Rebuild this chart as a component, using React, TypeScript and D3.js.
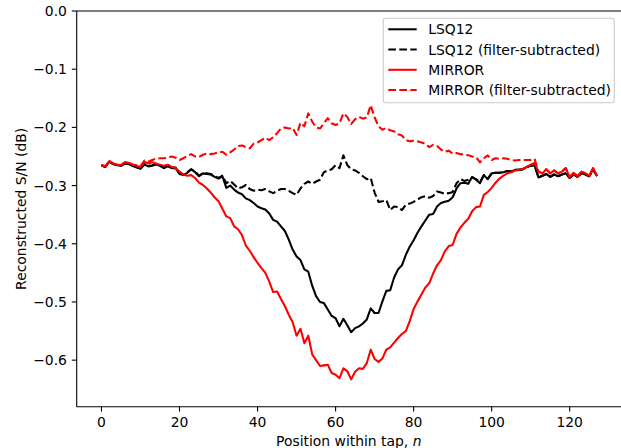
import React from "react";
import * as d3 from "d3";

const positions: number[] = Array.from({ length: 128 }, (_, i) => i);

const lsq12: number[] = [
  -0.265, -0.268, -0.259, -0.263, -0.265, -0.266, -0.262, -0.263, -0.266, -0.269,
  -0.271, -0.264, -0.267, -0.266, -0.264, -0.266, -0.270, -0.267, -0.270, -0.270,
  -0.280, -0.282, -0.278, -0.272, -0.277, -0.284, -0.279, -0.280, -0.281, -0.285,
  -0.288, -0.284, -0.304, -0.300, -0.307, -0.312, -0.315, -0.322, -0.325, -0.330,
  -0.336, -0.339, -0.341, -0.348, -0.359, -0.362, -0.370, -0.378, -0.393, -0.410,
  -0.422, -0.428, -0.444, -0.448, -0.472, -0.490, -0.500, -0.502, -0.513, -0.524,
  -0.528, -0.542, -0.529, -0.540, -0.552, -0.545, -0.542, -0.537, -0.530, -0.511,
  -0.519, -0.519, -0.499, -0.481, -0.480, -0.458, -0.444, -0.437, -0.419, -0.405,
  -0.394, -0.381, -0.370, -0.360, -0.350, -0.349, -0.336, -0.330, -0.328, -0.326,
  -0.320, -0.305, -0.296, -0.295, -0.297, -0.285, -0.290, -0.296, -0.282, -0.289,
  -0.279, -0.278, -0.278, -0.277, -0.275, -0.276, -0.273, -0.273, -0.272, -0.268,
  -0.266, -0.265, -0.286, -0.283, -0.280, -0.285, -0.281, -0.284, -0.281, -0.279,
  -0.287, -0.281, -0.285, -0.279, -0.281, -0.284, -0.272, -0.284,
];

const lsq12Sub: number[] = [
  -0.265, -0.268, -0.259, -0.263, -0.265, -0.266, -0.262, -0.263, -0.266, -0.268,
  -0.270, -0.263, -0.266, -0.265, -0.263, -0.265, -0.269, -0.266, -0.269, -0.269,
  -0.279, -0.281, -0.277, -0.272, -0.276, -0.283, -0.279, -0.279, -0.280, -0.284,
  -0.287, -0.283, -0.296, -0.292, -0.298, -0.305, -0.303, -0.299, -0.306, -0.309,
  -0.307, -0.308, -0.306, -0.310, -0.313, -0.309, -0.306, -0.306, -0.309, -0.313,
  -0.316, -0.305, -0.297, -0.293, -0.297, -0.293, -0.290, -0.277, -0.274, -0.272,
  -0.265, -0.270, -0.248, -0.265, -0.272, -0.274, -0.278, -0.284, -0.289, -0.287,
  -0.312, -0.328, -0.327, -0.325, -0.342, -0.336, -0.337, -0.342, -0.333, -0.331,
  -0.328, -0.324, -0.320, -0.318, -0.321, -0.318, -0.310, -0.312, -0.314, -0.313,
  -0.311, -0.296, -0.289, -0.292, -0.290, -0.286, -0.289, -0.294, -0.282, -0.288,
  -0.279, -0.278, -0.278, -0.277, -0.275, -0.276, -0.273, -0.273, -0.272, -0.268,
  -0.266, -0.265, -0.286, -0.283, -0.280, -0.285, -0.281, -0.284, -0.281, -0.279,
  -0.287, -0.281, -0.285, -0.279, -0.281, -0.284, -0.272, -0.284,
];

const mirror: number[] = [
  -0.265, -0.267, -0.258, -0.262, -0.264, -0.265, -0.260, -0.261, -0.264, -0.266,
  -0.268, -0.259, -0.262, -0.260, -0.262, -0.264, -0.266, -0.264, -0.268, -0.270,
  -0.276, -0.281, -0.283, -0.282, -0.287, -0.295, -0.299, -0.305, -0.312, -0.320,
  -0.327, -0.340, -0.353, -0.356, -0.370, -0.375, -0.385, -0.403, -0.412, -0.423,
  -0.433, -0.442, -0.450, -0.465, -0.483, -0.482, -0.495, -0.507, -0.522, -0.535,
  -0.558, -0.546, -0.571, -0.558, -0.590, -0.600, -0.610, -0.609, -0.608, -0.622,
  -0.625, -0.631, -0.614, -0.619, -0.633, -0.620, -0.614, -0.615, -0.605, -0.582,
  -0.598, -0.603, -0.597, -0.582, -0.578, -0.570, -0.562, -0.555, -0.550, -0.533,
  -0.512, -0.499, -0.487, -0.475, -0.468, -0.451, -0.437, -0.428, -0.413, -0.404,
  -0.402, -0.383, -0.372, -0.364, -0.357, -0.344, -0.337, -0.336, -0.316, -0.311,
  -0.304, -0.295, -0.288, -0.283, -0.279, -0.277, -0.274, -0.273, -0.271, -0.268,
  -0.264, -0.261, -0.276, -0.279, -0.272, -0.279, -0.274, -0.279, -0.276, -0.270,
  -0.286, -0.278, -0.284, -0.276, -0.279, -0.283, -0.270, -0.283,
];

const mirrorSub: number[] = [
  -0.265, -0.267, -0.258, -0.262, -0.264, -0.265, -0.260, -0.261, -0.264, -0.265,
  -0.267, -0.257, -0.259, -0.256, -0.254, -0.253, -0.253, -0.252, -0.250, -0.252,
  -0.256, -0.253, -0.249, -0.246, -0.250, -0.251, -0.247, -0.245, -0.246, -0.245,
  -0.243, -0.242, -0.247, -0.243, -0.238, -0.232, -0.231, -0.234, -0.236, -0.228,
  -0.226, -0.222, -0.218, -0.222, -0.217, -0.210, -0.202, -0.200, -0.202, -0.201,
  -0.213, -0.192, -0.198, -0.176, -0.190, -0.200, -0.202, -0.193, -0.184, -0.193,
  -0.196, -0.193, -0.176, -0.182, -0.194, -0.186, -0.182, -0.185, -0.183, -0.162,
  -0.183, -0.198, -0.204, -0.201, -0.205, -0.207, -0.212, -0.214, -0.222, -0.224,
  -0.223, -0.224, -0.226, -0.228, -0.234, -0.230, -0.232, -0.238, -0.242, -0.240,
  -0.245, -0.244, -0.246, -0.247, -0.248, -0.250, -0.251, -0.260, -0.253, -0.248,
  -0.256, -0.253, -0.254, -0.253, -0.254, -0.256, -0.257, -0.256, -0.256, -0.256,
  -0.256, -0.254, -0.276, -0.279, -0.272, -0.279, -0.274, -0.279, -0.276, -0.270,
  -0.286, -0.278, -0.284, -0.276, -0.279, -0.283, -0.270, -0.283,
];

const seriesNames: string[] = [
  "LSQ12",
  "LSQ12 (filter-subtracted)",
  "MIRROR",
  "MIRROR (filter-subtracted)",
];
const seriesColors: string[] = ["#000000", "#000000", "#ff0000", "#ff0000"];
const seriesDashed: boolean[] = [false, true, false, true];

const xTicks: number[] = [0, 20, 40, 60, 80, 100, 120];
const yTicks: number[] = [0, -0.1, -0.2, -0.3, -0.4, -0.5, -0.6];

const W = 621;
const H = 448;
const FONT = "'DejaVu Sans', sans-serif";
const FS = 13.9;
const LW = 2.08;
const DASH = "7.7,3.3";

export default function App() {
  const left = 76.7;
  const right = 621.8;
  const top = 11;
  const bottom = 406.7;
  const x = d3.scaleLinear().domain([-6.35, 133.35]).range([left, right]);
  const y = d3.scaleLinear().domain([-0.68, 0]).range([bottom, top]);

  const allSeries = [lsq12, lsq12Sub, mirror, mirrorSub];
  const line = d3
    .line<number>()
    .x((_, i) => x(positions[i]))
    .y((d) => y(d));

  const fmt = (v: number) => {
    const s = Math.abs(v).toFixed(1);
    return v < -1e-9 ? "\u2212" + s : s;
  };

  const legX = 383.3;
  const legY = 18.3;
  const legW = 231;
  const legH = 84.4;
  const rowY = [29.3, 49.5, 69.8, 90];

  return (
    <svg
      width={W}
      height={H}
      style={{ position: "absolute", left: 0, top: 0, background: "#fff" }}
      fontFamily={FONT}
    >
      <rect x={0} y={0} width={W} height={H} fill="#fff" />
      <defs>
        <clipPath id="plotclip">
          <rect x={left} y={top} width={right - left} height={bottom - top} />
        </clipPath>
      </defs>
      <g clipPath="url(#plotclip)">
        {allSeries.map((s, k) => (
          <path
            key={k}
            d={line(s) || ""}
            fill="none"
            stroke={seriesColors[k]}
            strokeWidth={LW}
            strokeDasharray={seriesDashed[k] ? DASH : undefined}
            strokeLinejoin="round"
          />
        ))}
      </g>
      {/* spines */}
      <line x1={left} x2={left} y1={top} y2={bottom} stroke="#000" strokeWidth={1.1} />
      <line x1={left} x2={right} y1={bottom} y2={bottom} stroke="#000" strokeWidth={1.1} />
      <line x1={left} x2={right} y1={top} y2={top} stroke="#000" strokeWidth={1.1} />
      {/* x ticks */}
      {xTicks.map((t) => (
        <g key={"x" + t}>
          <line x1={x(t)} x2={x(t)} y1={bottom} y2={bottom + 4.9} stroke="#000" strokeWidth={1.1} />
          <text x={x(t)} y={bottom + 20} textAnchor="middle" fontSize={FS} fill="#000">
            {t}
          </text>
        </g>
      ))}
      {/* y ticks */}
      {yTicks.map((t) => (
        <g key={"y" + t}>
          <line x1={left - 4.9} x2={left} y1={y(t)} y2={y(t)} stroke="#000" strokeWidth={1.1} />
          <text
            x={left - 9.8}
            y={y(t)}
            dy="0.36em"
            textAnchor="end"
            fontSize={FS}
            fill="#000"
          >
            {fmt(t)}
          </text>
        </g>
      ))}
      {/* axis labels */}
      <text x={(left + right) / 2 - 0.5} y={445.5} textAnchor="middle" fontSize={FS} fill="#000">
        Position within tap, <tspan fontStyle="italic">n</tspan>
      </text>
      <text
        transform={`translate(25.5, ${(top + bottom) / 2}) rotate(-90)`}
        textAnchor="middle"
        fontSize={FS}
        fill="#000"
      >
        Reconstructed S/N (dB)
      </text>
      {/* legend */}
      <rect
        x={legX}
        y={legY}
        width={legW}
        height={legH}
        rx={2.5}
        fill="#fff"
        fillOpacity={0.8}
        stroke="#cccccc"
        strokeWidth={1.1}
      />
      {seriesNames.map((name, k) => (
        <g key={name}>
          <line
            x1={388.3}
            x2={416.7}
            y1={rowY[k]}
            y2={rowY[k]}
            stroke={seriesColors[k]}
            strokeWidth={LW}
            strokeDasharray={seriesDashed[k] ? DASH : undefined}
          />
          <text x={428.3} y={rowY[k]} dy="0.36em" fontSize={FS} fill="#000">
            {name}
          </text>
        </g>
      ))}
    </svg>
  );
}
